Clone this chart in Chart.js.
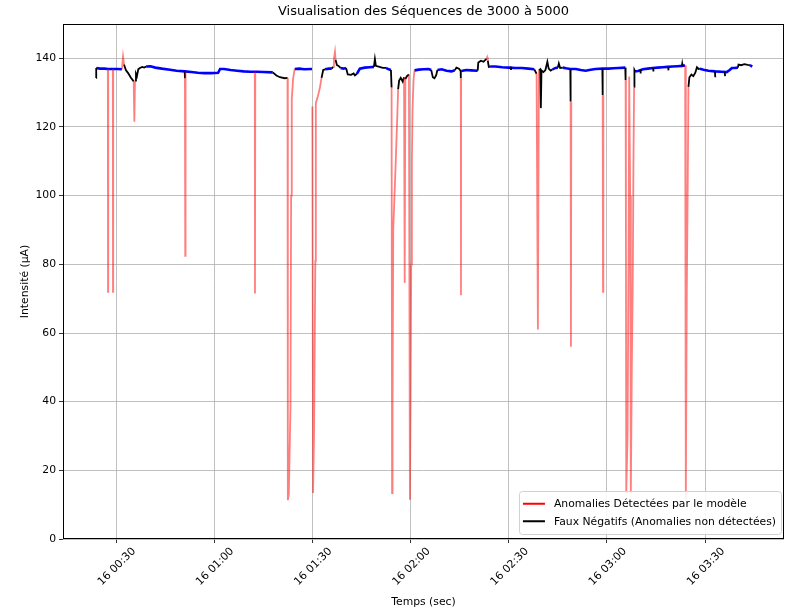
<!DOCTYPE html>
<html>
<head>
<meta charset="utf-8">
<script src="https://cdn.jsdelivr.net/npm/chart.js@4.4.1/dist/chart.umd.min.js"></script>
<style>
html,body{margin:0;padding:0;background:#fff;}
#wrap{width:788px;height:610px;}
</style>
</head>
<body>
<div id="wrap"><canvas id="c" width="788" height="610"></canvas></div>
<script>
// ---- Texts ----
const chartTitle = 'Visualisation des Séquences de 3000 à 5000';
const xAxisTitle = 'Temps (sec)';
const yAxisTitle = 'Intensité (µA)';
const dayLabel = '16';
const seriesLabels = ['Anomalies Détectées par le modèle', 'Faux Négatifs (Anomalies non détectées)'];

// ---- Axes (x in minutes after 16 00:00) ----
const xTickMinutes = [30, 60, 90, 120, 150, 180, 210];
const yTickValues = [0, 20, 40, 60, 80, 100, 120, 140];
const xRange = [13.8, 234.1];
const yRange = [0, 150];

// ---- Series: [minute, intensity], null = break ----
const normalSeries = [
  [23.95,137.2],[25.1,137.0],[26.5,137.0],[27.6,136.9],[29.0,136.9],[30.5,136.9],[31.8,136.8], null,
  [39.2,137.6],[40.5,137.7],[42,137.3],[44,137.0],[46.5,136.7],[48.5,136.4],[51,136.2],[53,136.0],[55,135.8],[57,135.7],[59,135.7],[61.2,135.8],[61.8,136.9],[63,136.9],[65,136.6],[67,136.4],[69,136.2],[71,136.1],[73,136.1],[75,136.0],[77.9,135.9], null,
  [84.6,136.9],[86,137.0],[87.5,136.8],[89.9,136.9], null,
  [93.9,136.8],[95,137.0],[95.9,137.0], null,
  [98.6,137.2],[99.5,137.0],[100.3,137.2], null,
  [103.6,135.5],[104.5,137.0],[106,137.3],[107.5,137.4],[108.8,137.5], null,
  [112.5,137.2],[113.3,136.8],[114.0,136.6], null,
  [121.2,136.5],[122.5,136.7],[124,136.8],[125.5,136.9],[126.3,136.6], null,
  [128.2,136.6],[129.5,136.8],[131,136.4],[132.5,136.2],[133.5,136.5], null,
  [135.5,136.3],[137,136.6],[138.5,136.5],[140.5,136.4], null,
  [144.3,137.6],[146,137.6],[148,137.4],[150,137.3],[152,137.2],[154,137.2],[156,137.0],[157.8,136.8], null,
  [163.4,136.8],[164.3,137.2],[165.0,137.3], null,
  [166.5,137.3],[167.5,137.1],[168.8,136.9],[170.5,136.9],[172,136.6],[173.5,136.4],[175,136.7],[176.5,136.9],[178.7,137.0],[180.5,137.0],[182,137.1],[183.5,137.2],[185.6,137.3], null,
  [188.6,136.2],[189.5,136.3],[191,136.8],[192.5,137.0],[194,137.2],[195.5,137.3],[197,137.4],[198.5,137.5],[200,137.6],[201.5,137.7],[203,137.8],[203.9,137.9], null,
  [208.4,137.0],[209.5,136.7],[211,136.4],[213,136.2],[215,136.1],[216.6,136.0],[217.5,136.6],[218.2,137.2],[219,137.2],[220,137.3], null,
  [223.7,138.0],[224.4,137.6]
];

const detectedSeries = [
  [27.5,136.9],[27.56,72],[27.62,136.9], null,
  [29.02,136.9],[29.08,72],[29.14,136.9], null,
  [31.8,136.8],[32.14,140.5],[32.45,138.2], null,
  [35.4,133.3],[35.6,121.5],[35.8,133.5], null,
  [51.05,134.2],[51.15,82.5],[51.25,136.2], null,
  [72.4,136.1],[72.46,71.5],[72.55,136.1], null,
  [82.4,134.3],[82.5,11.3],[82.8,13],[83.3,38],[83.5,100],[83.7,128],[84.1,134],[84.6,136.9], null,
  [90.0,126],[90.2,13.4],[90.5,30],[90.9,81],[91.0,110],[91.1,127],[91.7,129],[92.3,131.5],[92.8,134.3], null,
  [96.3,137.5],[96.6,140],[96.9,141.9],[97.1,139.5], null,
  [114.2,131.5],[114.35,13.4],[114.5,40],[114.7,90],[115.3,105.4],[115.9,122],[116.2,131], null,
  [118.0,134.5],[118.2,74.6],[118.4,134.0], null,
  [119.5,135.3],[119.8,11.4],[120.0,40],[120.2,80],[120.4,110],[120.6,125],[120.9,133.7],[121.2,136.5], null,
  [135.35,134.3],[135.4,71],[135.45,134.3], null,
  [143.2,139.8],[143.4,140.3],[143.6,139.3], null,
  [158.5,135.5],[158.9,61],[159.2,136.5], null,
  [168.9,127.4],[169.0,56],[169.1,127.4], null,
  [178.7,129.3],[178.8,72],[178.9,129.3], null,
  [185.7,133.7],[185.8,91],[185.9,13.4],[186.3,30],[186.6,80],[186.8,134.7],[187.1,100],[187.3,13.4],[187.6,50],[187.9,76.4],[188.1,110],[188.3,131.7], null,
  [203.9,137.9],[204.1,11.5],[204.4,72],[204.7,105],[204.9,131.7]
];

const falseNegativeSeries = [
  [23.9,134.3],[23.95,137.2], null,
  [32.45,138.2],[33.0,136.6],[33.7,135.7],[34.5,134.4],[35.4,133.3], null,
  [35.8,133.5],[36.1,135.5],[36.4,134.8],[36.8,136.8],[37.3,137.2],[38.0,137.5],[38.6,137.3],[39.2,137.6], null,
  [51.0,136.2],[51.05,134.2], null,
  [77.9,135.9],[79,135.0],[80.1,134.5],[81.5,134.2],[82.4,134.3], null,
  [92.8,134.3],[93.3,136.6],[93.9,136.8], null,
  [95.9,137.0],[96.3,137.5], null,
  [97.1,139.5],[97.5,138.0],[98.0,137.8],[98.6,137.2], null,
  [100.3,137.2],[100.8,135.3],[101.8,135.2],[102.6,135.6],[103.0,135.0],[103.6,135.5], null,
  [108.8,137.5],[109.1,139.8],[109.4,137.8],[110.5,137.5],[111.5,137.2],[112.5,137.2], null,
  [114.0,136.6],[114.2,131.5], null,
  [116.2,131],[116.5,133.5],[117.0,134.3],[117.6,133.2],[118.0,134.5], null,
  [118.4,134.0],[118.9,134.8],[119.5,135.3], null,
  [126.3,136.6],[126.8,134.5],[127.3,134.2],[127.8,135.0],[128.2,136.6], null,
  [133.5,136.5],[134.0,137.3],[134.8,137.0],[135.3,136.3],[135.35,134.3], null,
  [140.5,136.4],[140.7,138.8],[141.5,139.3],[142.3,139.0],[142.9,139.6],[143.2,139.8], null,
  [143.6,139.3],[143.9,137.5],[144.3,137.6], null,
  [150.6,137.6],[150.7,136.6], null,
  [157.8,136.8],[158.5,135.5], null,
  [159.2,136.5],[159.6,136.8],[159.8,125.5],[160.0,136.5],[160.6,136.0],[161.2,136.6],[161.8,139.0],[162.2,137.0],[162.8,136.4],[163.4,136.8], null,
  [165.0,137.3],[165.3,138.5],[165.7,137.2],[166.5,137.3], null,
  [168.8,136.9],[168.9,127.4], null,
  [178.6,137.0],[178.7,129.3], null,
  [185.6,137.3],[185.7,133.7], null,
  [188.3,131.7],[188.4,136.6],[188.6,136.2], null,
  [190.2,136.7],[190.3,135.6], null,
  [194.1,137.2],[194.2,136.2], null,
  [198.7,137.5],[198.8,136.5], null,
  [202.9,137.8],[203.0,138.4],[203.1,137.8], null,
  [204.9,131.7],[205.2,134.5],[205.8,135.3],[206.4,134.8],[207.0,135.8],[207.5,137.4],[208.0,136.9],[208.4,137.0], null,
  [213.0,136.2],[213.1,134.5], null,
  [216.0,136.0],[216.1,134.8], null,
  [220.0,137.3],[220.2,138.2],[221.0,138.0],[222.0,138.3],[223.0,138.1],[223.7,138.0]
];

// ---- Helpers ----
function toPoints(series) {
  const out = [];
  let lastX = null;
  series.forEach(p => {
    if (p === null) { out.push({x: lastX, y: null}); }
    else { out.push({x: p[0], y: p[1]}); lastX = p[0]; }
  });
  return out;
}
function pad2(n) { return String(n).padStart(2, '0'); }
function timeLabel(m) { return dayLabel + ' ' + pad2(Math.floor(m / 60)) + ':' + pad2(Math.round(m % 60)); }

const FONT = '"DejaVu Sans", "Liberation Sans", sans-serif';
const FS = 10.8;
Chart.defaults.font.family = FONT;
Chart.defaults.color = '#000';

const framePlugin = {
  id: 'frame',
  afterDatasetsDraw(chart) {
    const {ctx, chartArea: a} = chart;
    ctx.save();
    ctx.strokeStyle = '#000';
    ctx.lineWidth = 1;
    ctx.strokeRect(Math.round(a.left) + 0.5, Math.round(a.top) + 0.5, Math.round(a.right - a.left) - 1, Math.round(a.bottom - a.top) - 1);
    ctx.restore();
  }
};

const insideLegend = {
  id: 'insideLegend',
  afterDraw(chart) {
    const {ctx, chartArea: a} = chart;
    const items = chart.data.datasets.filter(d => d.legendColor);
    ctx.save();
    ctx.font = FS + 'px ' + FONT;
    const textW = Math.max(...items.map(d => ctx.measureText(d.label).width));
    const padX = 4, handle = 22, gap = 9, rowH = 17.5;
    const w = padX + handle + gap + textW + padX + 1;
    const h = 5 + rowH * items.length + 3;
    const x0 = a.right - 3 - w;
    const y0 = a.bottom - 5 - h;
    ctx.beginPath();
    if (ctx.roundRect) ctx.roundRect(x0 + 0.5, y0 + 0.5, w, h, 3); else ctx.rect(x0 + 0.5, y0 + 0.5, w, h);
    ctx.fillStyle = 'rgba(255,255,255,0.85)';
    ctx.fill();
    ctx.strokeStyle = '#d0d0d0';
    ctx.lineWidth = 1;
    ctx.stroke();
    ctx.textBaseline = 'middle';
    ctx.textAlign = 'left';
    items.forEach((d, i) => {
      const cy = y0 + 5 + rowH * i + rowH / 2 - 1;
      ctx.beginPath();
      ctx.moveTo(x0 + padX, cy);
      ctx.lineTo(x0 + padX + handle, cy);
      ctx.strokeStyle = d.legendColor;
      ctx.lineWidth = 2;
      ctx.stroke();
      ctx.fillStyle = '#000';
      ctx.fillText(d.label, x0 + padX + handle + gap, cy + 0.5);
    });
    ctx.restore();
  }
};

new Chart(document.getElementById('c'), {
  type: 'line',
  data: {
    datasets: [
      {
        label: seriesLabels[0], legendColor: '#ff0000',
        data: toPoints(detectedSeries), borderColor: 'rgba(255,0,0,0.5)', borderWidth: 1.8,
        pointRadius: 0, spanGaps: false, tension: 0, order: 1
      },
      {
        label: seriesLabels[1], legendColor: '#000000',
        data: toPoints(falseNegativeSeries), borderColor: '#000000', borderWidth: 1.8,
        pointRadius: 0, spanGaps: false, tension: 0, order: 2
      },
      {
        label: '',
        data: toPoints(normalSeries), borderColor: '#0000ff', borderWidth: 2.6,
        pointRadius: 0, spanGaps: false, tension: 0, order: 3
      }
    ]
  },
  options: {
    responsive: false,
    animation: false,
    devicePixelRatio: 1,
    layout: { padding: { left: 0, right: 4, top: 0, bottom: 0 } },
    plugins: {
      legend: { display: false },
      tooltip: { enabled: false },
      title: {
        display: true, text: chartTitle, color: '#000', fullSize: false,
        font: { size: 13, weight: 'normal', family: FONT },
        padding: { top: 4, bottom: 4.4 }
      }
    },
    scales: {
      x: {
        type: 'linear', min: xRange[0], max: xRange[1],
        afterBuildTicks: s => { s.ticks = xTickMinutes.map(v => ({value: v})); },
        afterFit: s => { s.height = 71; },
        grid: { color: '#b0b0b0', lineWidth: 0.8, drawTicks: true, tickLength: 4, tickColor: '#000' },
        border: { display: false },
        ticks: {
          autoSkip: false, minRotation: 45, maxRotation: 45, padding: 2, labelOffset: 18,
          font: { size: FS }, color: '#000',
          callback: v => timeLabel(v)
        },
        title: { display: true, text: xAxisTitle, font: { size: FS }, color: '#000', padding: { top: 2, bottom: 1.5 } }
      },
      y: {
        type: 'linear', min: yRange[0], max: yRange[1],
        afterBuildTicks: s => { s.ticks = yTickValues.map(v => ({value: v})); },
        afterFit: s => { s.width = 63; },
        grid: { color: '#b0b0b0', lineWidth: 0.8, drawTicks: true, tickLength: 4, tickColor: '#000' },
        border: { display: false },
        ticks: { padding: 3, font: { size: FS }, color: '#000', callback: v => String(v) },
        title: { display: true, text: yAxisTitle, font: { size: FS }, color: '#000', padding: { top: 18.5, bottom: 0 } }
      }
    }
  },
  plugins: [framePlugin, insideLegend]
});
</script>
</body>
</html>
